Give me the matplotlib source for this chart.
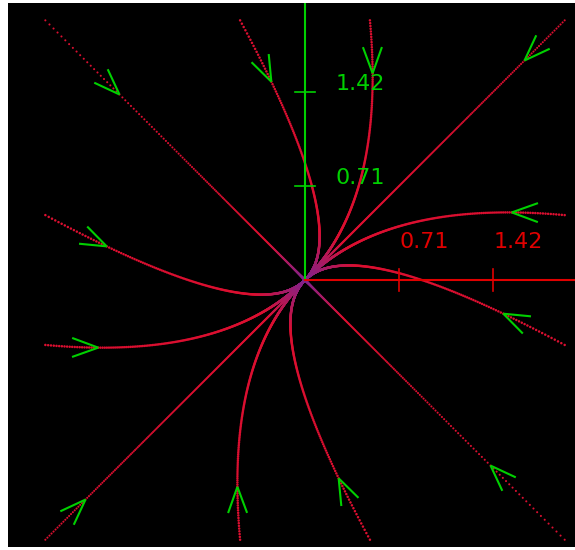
import numpy as np
import matplotlib
matplotlib.use("Agg")
import matplotlib.pyplot as plt

# linear system  d/dt [x, y] = A @ [x, y]
A = np.array([[-3.0, 1.0],
              [1.0, -3.0]])

# starting points of the trajectories (edge of the square)
start_x = [-1.96, -0.49, 0.49, 1.96, 1.96, 1.96, 1.96, 0.49, -0.49, -1.96, -1.96, -1.96]
start_y = [1.96, 1.96, 1.96, 1.96, 0.49, -0.49, -1.96, -1.96, -1.96, -1.96, -0.49, 0.49]

tick_vals = [0.71, 1.42]
tick_labels = ["0.71", "1.42"]

dt = 0.004        # time step, points are drawn at every step
t_arrow = 0.084   # time at which the direction arrow sits
RED = np.array([0.86, 0.06, 0.19])
PURPLE = np.array([0.50, 0.14, 0.56])
GREEN = "#00d000"


def field(p):
    return A @ p


def integrate(p0, n_max=3000):
    pts = [np.array(p0, dtype=float)]
    p = pts[0]
    for _ in range(n_max):
        k1 = field(p)
        k2 = field(p + dt / 2 * k1)
        k3 = field(p + dt / 2 * k2)
        k4 = field(p + dt * k3)
        p = p + dt / 6 * (k1 + 2 * k2 + 2 * k3 + k4)
        pts.append(p)
        if np.hypot(*p) < 0.003:
            break
    return np.array(pts)


def draw_arrow(ax, tip, d, length=0.21, half=np.radians(20)):
    d = d / np.linalg.norm(d)
    back = -d
    for s in (1, -1):
        c, sn = np.cos(s * half), np.sin(s * half)
        b = np.array([c * back[0] - sn * back[1], sn * back[0] + c * back[1]])
        end = tip + length * b
        ax.plot([tip[0], end[0]], [tip[1], end[1]], color=GREEN, lw=1.5,
                solid_capstyle="butt", zorder=5)


fig = plt.figure(figsize=(5.75, 5.5), dpi=100)
fig.patch.set_facecolor("white")
ax = fig.add_axes([8 / 575, 3 / 550, 567 / 575, 544 / 550])
ax.set_facecolor("black")
ax.set_xlim(-2.242, 2.038)
ax.set_ylim(-2.015, 2.091)
ax.set_axis_off()
ax.add_patch(plt.Rectangle((0, 0), 1, 1, transform=ax.transAxes,
                           facecolor="black", zorder=0))

# coordinate axes (positive halves only)
ax.plot([0, 0], [0, 2.2], color=GREEN, lw=1.5, zorder=3)
ax.plot([0, 2.2], [0, 0], color="#e00000", lw=1.5, zorder=3)
for v, lab in zip(tick_vals, tick_labels):
    ax.plot([-0.075, 0.075], [v, v], color=GREEN, lw=1.2, zorder=3)
    ax.text(0.23, v + 0.06, lab, color=GREEN, fontsize=16, va="center", ha="left")
    ax.plot([v, v], [-0.08, 0.08], color="#e00000", lw=1.2, zorder=3)
    ax.text(v, 0.285, lab, color="#e00000", fontsize=16, va="center", ha="left")

# trajectories
for x0, y0 in zip(start_x, start_y):
    pts = integrate((x0, y0))
    r = np.hypot(pts[:, 0], pts[:, 1])
    w = np.clip(1 - r / 0.4, 0, 1)[:, None]
    cols = RED * (1 - w) + PURPLE * w
    diag = abs(abs(x0) - abs(y0)) < 1e-9
    ax.scatter(pts[:, 0], pts[:, 1], s=2.2 if diag else 3.2, c=cols,
               marker="o", linewidths=0, zorder=2)
    i = int(round(t_arrow / dt))
    draw_arrow(ax, pts[i], field(pts[i]))

fig.savefig("out.png", dpi=100, facecolor="white")
